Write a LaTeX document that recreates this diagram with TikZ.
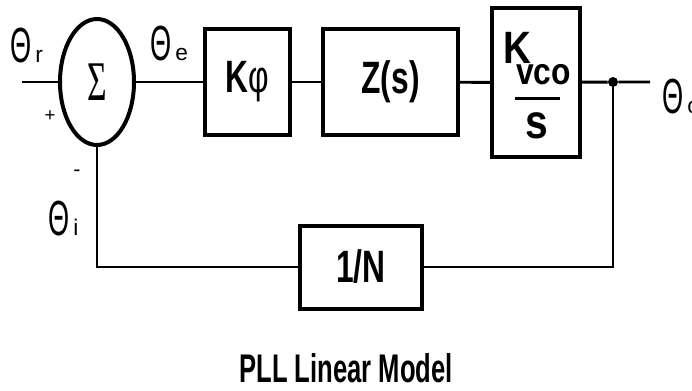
\documentclass[tikz,border=0pt]{standalone}
\usepackage{fontspec}
\setmainfont{Liberation Sans}
\newfontfamily\blockfont{Liberation Sans}[FakeStretch=0.7]
\newfontfamily\vcofont{Liberation Sans}[FakeStretch=0.85]
\newfontfamily\titlefont{Liberation Sans}[FakeStretch=0.64]
\newfontfamily\thetafont{Liberation Sans}[FakeStretch=0.55]
\newfontfamily\sumfont{Liberation Serif}
\usetikzlibrary{shapes.geometric}
\newcommand{\sig}[1]{{\thetafont\fontsize{37pt}{38pt}\selectfont Θ}\kern3pt{\fontsize{17pt}{17pt}\selectfont #1}}
\tikzset{
  block/.style={draw, line width=3pt, inner sep=0pt, minimum height=79.5pt,
    font={\blockfont\bfseries\fontsize{34pt}{36pt}\selectfont}},
  vcotext/.style={inner sep=0pt, font={\vcofont\bfseries\fontsize{#1}{#1}\selectfont}},
  sig/.style={inner sep=0pt, anchor=base west},
  wire/.style={line width=2.2pt}
}
\begin{document}
\begin{tikzpicture}[x=0.75pt,y=-0.75pt]
	\useasboundingbox (0,0) rectangle (692,390);
	% forward path
	\node[ellipse, draw, line width=3pt, minimum width=55.5pt, minimum height=94.5pt, inner sep=0pt] (sum) at (97,82)
		{\sumfont\fontsize{42pt}{42pt}\selectfont\scalebox{0.6}[1]{Σ}};
	\node[block, minimum width=63.75pt] (kphi) at (247.5,82) {K{\mdseries φ}};
	\node[block, minimum width=101.25pt] (zs) at (390.5,82) {Z(s)};
	\node[block, minimum width=66pt, minimum height=111.75pt] (kvco) at (536,82.5) {};
	\node[vcotext=34pt, anchor=base west] (kname) at (503,63) {K};
	\node[vcotext=28pt, anchor=base west] (ksub) at (516,84) {vco};
	\node[vcotext=36pt, anchor=base] (kden) at (537,138) {s};
	\draw[line width=2.25pt] (515,98) -- (560,98);
	\node[circle, fill, inner sep=0pt, minimum size=7.5pt] (tap) at (613,82) {};
	% feedback path
	\node[block, minimum width=91.5pt, minimum height=62.25pt] (ndiv) at (361,267) {1/N};
	\coordinate (in) at (22,82);
	\coordinate (out) at (650,82);
	\draw[wire] (in) -- (sum);
	\draw[wire] (sum) -- (kphi);
	\draw[wire] (kphi) -- (zs);
	\draw[wire] (zs) -- (kvco);
	\draw[wire] (kvco) -- (tap) -- (out);
	\draw[wire] (tap) |- (ndiv);
	\draw[wire] (ndiv) -| (sum.south);
	% signal labels
	\node[sig] (thr) at (10,62) {\sig{r}};
	\node[sig] (the) at (150,60) {\sig{e}};
	\node[sig] (thi) at (48,235) {\sig{i}};
	\node[sig] (tho) at (662,113) {\sig{o}};
	\node[font=\fontsize{14pt}{14pt}\selectfont] (plus) at (50,116) {+};
	\node[font=\fontsize{16pt}{16pt}\selectfont] (minus) at (77,173) {-};
	\node[anchor=base, font={\titlefont\bfseries\fontsize{30pt}{32pt}\selectfont}] (title) at (346,382) {PLL Linear Model};
\end{tikzpicture}
\end{document}
